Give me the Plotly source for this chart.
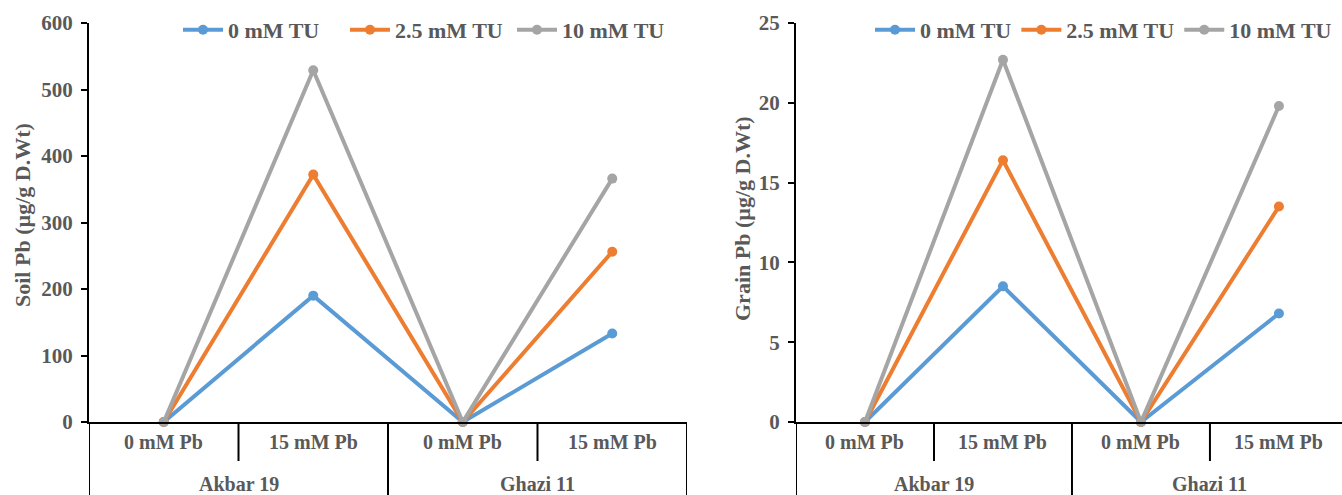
import plotly.graph_objects as go

# ---- data ----
sub_labels = ["0 mM Pb", "15 mM Pb", "0 mM Pb", "15 mM Pb"]
group_labels = ["Akbar 19", "Ghazi 11"]
series_names = ["0 mM TU", "2.5 mM TU", "10 mM TU"]

soil_0tu = [0, 190, 0, 133]
soil_25tu = [0, 372, 0, 256]
soil_10tu = [0, 529, 0, 366]

grain_0tu = [0, 8.5, 0, 6.8]
grain_25tu = [0, 16.4, 0, 13.5]
grain_10tu = [0, 22.7, 0, 19.8]

colors = ["#5B9BD5", "#ED7D31", "#A5A5A5"]
FONT = "Liberation Serif"
TXT = "#595959"

W, H = 1342, 495
ML, MR, MT, MB = 89, 0, 23, 73
pw = W - ML - MR
ph = H - MT - MB

def px_x(p):
    return (p - ML) / pw

def px_y(p):
    return (H - MB - p) / ph

xs = list(range(len(sub_labels)))

fig = go.Figure()

panels = [
    ("x", "y", "legend", [soil_0tu, soil_25tu, soil_10tu]),
    ("x2", "y2", "legend2", [grain_0tu, grain_25tu, grain_10tu]),
]
for xa, ya, lg, data in panels:
    for name, vals, c in zip(series_names, data, colors):
        fig.add_trace(go.Scatter(
            x=xs, y=vals, name=name, mode="lines+markers",
            xaxis=xa, yaxis=ya, legend=lg,
            line=dict(color=c, width=4),
            marker=dict(color=c, size=10),
            cliponaxis=False,
        ))

axis_font = dict(family=FONT, size=21, color=TXT, weight="bold")
leg_font = dict(family=FONT, size=22, color=TXT, weight="bold")

fig.update_layout(
    width=W, height=H,
    margin=dict(l=ML, r=MR, t=MT, b=MB, autoexpand=False),
    paper_bgcolor="white", plot_bgcolor="white",
    font=dict(family=FONT, color=TXT, size=20),
    xaxis=dict(domain=[0, px_x(687)], range=[-0.5, 3.5], showticklabels=False,
               showgrid=False, zeroline=False, showline=True, linecolor="black",
               linewidth=2, ticks=""),
    xaxis2=dict(domain=[px_x(796), 1], range=[-0.5, 3.457], showticklabels=False,
                showgrid=False, zeroline=False, showline=True, linecolor="black",
                linewidth=2, ticks="", anchor="y2"),
    yaxis=dict(domain=[0, 1], range=[0, 600], dtick=100, showgrid=False,
               zeroline=False, showline=True, linecolor="black", linewidth=2,
               ticks="outside", ticklen=6, tickcolor="black", tickwidth=2,
               tickfont=axis_font, ticklabelstandoff=4),
    yaxis2=dict(domain=[0, 1], range=[0, 25], dtick=5, showgrid=False,
                zeroline=False, showline=True, linecolor="black", linewidth=2,
                ticks="outside", ticklen=6, tickcolor="black", tickwidth=2,
                tickfont=axis_font, ticklabelstandoff=4, anchor="x2"),
    legend=dict(orientation="h", x=px_x(178), y=px_y(30), xanchor="left",
                yanchor="middle", font=leg_font, itemwidth=40,
                bgcolor="rgba(0,0,0,0)", entrywidth=112),
    legend2=dict(orientation="h", x=px_x(870), y=px_y(30), xanchor="left",
                 yanchor="middle", font=leg_font, itemwidth=40,
                 bgcolor="rgba(0,0,0,0)"),
    showlegend=True,
)

ann = []
shapes = []
n_sub = len(sub_labels) // len(group_labels)
for xa in ["x", "x2"]:
    for i, lab in enumerate(sub_labels):
        ann.append(dict(x=xs[i], y=px_y(442), xref=xa, yref="paper", text=lab,
                        showarrow=False, xanchor="center", yanchor="middle",
                        font=dict(family=FONT, size=20, color=TXT, weight="bold")))
    for g, lab in enumerate(group_labels):
        cx = (xs[g * n_sub] + xs[g * n_sub + n_sub - 1]) / 2
        ann.append(dict(x=cx, y=px_y(484), xref=xa, yref="paper", text=lab,
                        showarrow=False, xanchor="center", yanchor="middle",
                        font=dict(family=FONT, size=20, color=TXT, weight="bold")))
    for k in range(len(sub_labels) + 1):
        bx = k - 0.5
        long = (k % n_sub == 0)
        shapes.append(dict(type="line", xref=xa, yref="paper", x0=bx, x1=bx,
                           y0=0, y1=px_y(495) if long else px_y(461),
                           line=dict(color="black", width=2), layer="above"))

ann.append(dict(x=px_x(22), y=px_y(215), xref="paper", yref="paper",
                text="Soil Pb (µg/g D.Wt)", textangle=-90, showarrow=False,
                xanchor="center", yanchor="middle",
                font=dict(family=FONT, size=22, color=TXT, weight="bold")))
ann.append(dict(x=px_x(742), y=px_y(219), xref="paper", yref="paper",
                text="Grain Pb (µg/g D.Wt)", textangle=-90, showarrow=False,
                xanchor="center", yanchor="middle",
                font=dict(family=FONT, size=22, color=TXT, weight="bold")))

fig.update_layout(annotations=ann, shapes=shapes)
fig.write_html("out.html")
